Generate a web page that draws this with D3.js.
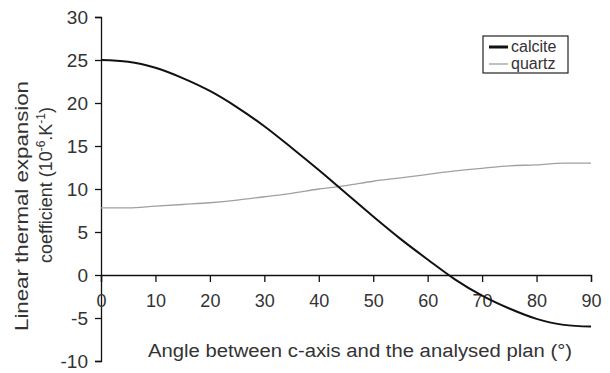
<!DOCTYPE html>
<html>
<head>
<meta charset="utf-8">
<script src="https://cdn.jsdelivr.net/npm/d3@7"></script>
<style>
  html, body { margin: 0; padding: 0; background: #fff; }
  svg text { font-family: "Liberation Sans", Arial, sans-serif; fill: #333; }
</style>
</head>
<body>
<svg id="chart" width="610" height="373"></svg>
<script>
// Data
const angles = [0, 5, 10, 15, 20, 25, 30, 35, 40, 45, 50, 55, 60, 65, 70, 75, 80, 85, 90];
const calcite = [25.0, 24.8, 24.1, 22.9, 21.4, 19.5, 17.3, 14.8, 12.2, 9.5, 6.8, 4.2, 1.8, -0.5, -2.4, -3.9, -5.1, -5.8, -6.0];
const quartz = [7.8, 7.8, 8.0, 8.2, 8.4, 8.7, 9.1, 9.5, 10.0, 10.4, 10.9, 11.3, 11.7, 12.1, 12.4, 12.7, 12.8, 13.0, 13.0];
const xTicks = [0, 10, 20, 30, 40, 50, 60, 70, 80, 90];
const yTicks = [-10, -5, 0, 5, 10, 15, 20, 25, 30];
const seriesNames = ["calcite", "quartz"];
const seriesColors = ["#111", "#a0a0a0"];
const seriesWidths = [2.0, 1.3];

const svg = d3.select("#chart");
const x = d3.scaleLinear().domain([0, 90]).range([101, 591]);
const y = d3.scaleLinear().domain([-10, 30]).range([361, 17]);

// Y axis
const yAxis = d3.axisLeft(y).tickValues(yTicks).tickSize(6).tickPadding(7).tickFormat(d => String(d));
const gy = svg.append("g").attr("transform", `translate(${x(0)},0)`).call(yAxis);
gy.select(".domain").attr("stroke", "#111").attr("stroke-width", 1.3);
gy.selectAll(".tick line").attr("stroke", "#111").attr("stroke-width", 1.3);
gy.selectAll(".tick text").attr("font-size", 19).attr("fill", "#333")
  .attr("font-family", "Liberation Sans, Arial, sans-serif");

// X axis at y=0
const xAxis = d3.axisBottom(x).tickValues(xTicks).tickSize(7).tickPadding(12).tickFormat(d => String(d));
const gx = svg.append("g").attr("transform", `translate(0,${y(0)})`).call(xAxis);
gx.select(".domain").attr("stroke", "#111").attr("stroke-width", 1.3);
gx.selectAll(".tick line").attr("stroke", "#111").attr("stroke-width", 1.3);
gx.selectAll(".tick text").attr("font-size", 18).attr("fill", "#333")
  .attr("font-family", "Liberation Sans, Arial, sans-serif");

// Lines
const line = d3.line().x((d, i) => x(angles[i])).y(d => y(d)).curve(d3.curveMonotoneX);
[quartz, calcite].forEach((s, k) => {
  const idx = k === 0 ? 1 : 0;
  svg.append("path").datum(s)
    .attr("fill", "none")
    .attr("stroke", seriesColors[idx])
    .attr("stroke-width", seriesWidths[idx])
    .attr("d", line);
});

// Axis titles
svg.append("text")
  .attr("x", 360).attr("y", 357)
  .attr("text-anchor", "middle")
  .attr("font-size", 18)
  .attr("textLength", 424).attr("lengthAdjust", "spacingAndGlyphs")
  .text("Angle between c-axis and the analysed plan (°)");

svg.append("text")
  .attr("transform", "translate(28,206) rotate(-90)")
  .attr("text-anchor", "middle")
  .attr("font-size", 19)
  .attr("textLength", 250).attr("lengthAdjust", "spacingAndGlyphs")
  .text("Linear thermal expansion");

const t2 = svg.append("text")
  .attr("transform", "translate(52,185) rotate(-90)")
  .attr("text-anchor", "middle")
  .attr("font-size", 18);
t2.append("tspan").text("coefficient (10");
t2.append("tspan").attr("dy", -7).attr("font-size", 12).text("-6");
t2.append("tspan").attr("dy", 7).text(".K");
t2.append("tspan").attr("dy", -7).attr("font-size", 12).text("-1");
t2.append("tspan").attr("dy", 7).text(")");

// Legend
const lg = svg.append("g");
lg.append("rect").attr("x", 483).attr("y", 36).attr("width", 85).attr("height", 37)
  .attr("fill", "#fff").attr("stroke", "#222").attr("stroke-width", 1.2);
seriesNames.forEach((n, i) => {
  const cy = 47 + i * 17;
  lg.append("line").attr("x1", 489).attr("x2", 508).attr("y1", cy).attr("y2", cy)
    .attr("stroke", seriesColors[i]).attr("stroke-width", i === 0 ? 3 : 1.3);
  lg.append("text").attr("x", 511).attr("y", cy + 5).attr("font-size", 16).text(n);
});
</script>
</body>
</html>
